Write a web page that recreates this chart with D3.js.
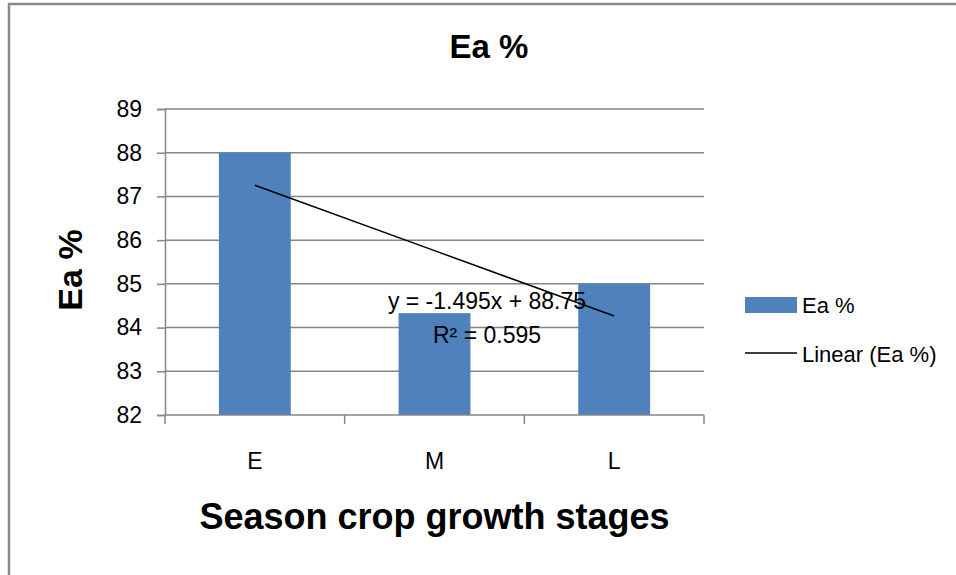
<!DOCTYPE html>
<html>
<head>
<meta charset="utf-8">
<script src="https://cdn.jsdelivr.net/npm/d3@7"></script>
<style>
  html, body { margin: 0; padding: 0; background: #fff; }
  svg { display: block; }
  text { font-family: "Liberation Sans", Arial, sans-serif; fill: #000; }
</style>
</head>
<body>
<svg id="chart" width="956" height="575"></svg>
<script>
// Growth stages and application efficiency values
const categories = ["E", "M", "L"];
const eaValues = [88, 84.33, 85];
const yTicks = [82, 83, 84, 85, 86, 87, 88, 89];
// Linear trend fitted over stage index 1..n
const trendSlope = -1.495;
const trendIntercept = 88.75;
const trendR2 = 0.595;

const svg = d3.select("#chart");
const W = 956, H = 575;
const plot = { left: 165, right: 704, top: 109, bottom: 415 };
const gridColor = "#868686";
const barColor = "#4F81BD";

svg.append("rect").attr("width", W).attr("height", H).attr("fill", "#fff");

// Chart area frame
svg.append("rect")
  .attr("x", 9).attr("y", 4)
  .attr("width", W + 20).attr("height", H + 20)
  .attr("fill", "none").attr("stroke", "#8a8a8a").attr("stroke-width", 2.5);

const x = d3.scaleBand().domain(categories)
  .range([plot.left, plot.right]).paddingInner(0.6).paddingOuter(0.3);
const xOuter = d3.scaleBand().domain(categories).range([plot.left, plot.right]);
const y = d3.scaleLinear().domain([82, 89]).range([plot.bottom, plot.top]);

// Horizontal gridlines
svg.append("g").selectAll("line").data(yTicks.slice(1)).join("line")
  .attr("x1", plot.left).attr("x2", plot.right)
  .attr("y1", d => y(d)).attr("y2", d => y(d))
  .attr("stroke", gridColor).attr("stroke-width", 1.5);

// Bars
svg.append("g").selectAll("rect").data(categories).join("rect")
  .attr("x", d => x(d))
  .attr("width", x.bandwidth())
  .attr("y", (d, i) => y(eaValues[i]))
  .attr("height", (d, i) => y(82) - y(eaValues[i]))
  .attr("fill", barColor);

// Y axis
const yAxis = svg.append("g")
  .attr("transform", `translate(${plot.left},0)`)
  .call(d3.axisLeft(y).tickValues(yTicks).tickSize(8).tickPadding(15).tickFormat(d3.format("d")));
yAxis.select(".domain").attr("stroke", gridColor).attr("stroke-width", 1.5);
yAxis.selectAll(".tick line").attr("stroke", gridColor).attr("stroke-width", 1.5);
yAxis.selectAll(".tick text").attr("font-size", 23).attr("font-family", "Liberation Sans, Arial, sans-serif").attr("fill", "#000");

// X axis with tick marks at category boundaries
const xAxisG = svg.append("g").attr("transform", `translate(0,${plot.bottom})`);
xAxisG.append("line")
  .attr("x1", plot.left).attr("x2", plot.right)
  .attr("stroke", gridColor).attr("stroke-width", 1.5);
const boundaries = categories.map(c => xOuter(c)).concat([xOuter(categories[categories.length - 1]) + xOuter.bandwidth()]);
xAxisG.selectAll("line.tk").data(boundaries).join("line").attr("class", "tk")
  .attr("x1", d => d).attr("x2", d => d).attr("y1", 0).attr("y2", 9)
  .attr("stroke", gridColor).attr("stroke-width", 1.5);
xAxisG.selectAll("text").data(categories).join("text")
  .attr("x", d => xOuter(d) + xOuter.bandwidth() / 2)
  .attr("y", 54)
  .attr("text-anchor", "middle").attr("font-size", 23)
  .text(d => d);

// Linear trendline from the fitted equation
const trendPts = categories.map((c, i) => [xOuter(c) + xOuter.bandwidth() / 2, y(trendSlope * (i + 1) + trendIntercept)]);
svg.append("path")
  .attr("d", d3.line()(trendPts))
  .attr("fill", "none").attr("stroke", "#000").attr("stroke-width", 1.5);

// Trendline equation
svg.append("text").attr("x", 487).attr("y", 309).attr("text-anchor", "middle").attr("font-size", 23)
  .text(`y = ${trendSlope}x + ${trendIntercept}`);
svg.append("text").attr("x", 487).attr("y", 343).attr("text-anchor", "middle").attr("font-size", 23)
  .text(`R² = ${trendR2}`);

// Titles
svg.append("text").attr("x", 489).attr("y", 58).attr("text-anchor", "middle")
  .attr("font-size", 33).attr("font-weight", "bold").text("Ea %");
svg.append("text").attr("transform", "translate(82,270) rotate(-90)")
  .attr("text-anchor", "middle").attr("font-size", 34).attr("font-weight", "bold").text("Ea %");
svg.append("text").attr("x", (plot.left + plot.right) / 2).attr("y", 529).attr("text-anchor", "middle")
  .attr("font-size", 36).attr("font-weight", "bold").text("Season crop growth stages");

// Legend
const legend = svg.append("g");
legend.append("rect").attr("x", 745).attr("y", 297).attr("width", 52).attr("height", 16).attr("fill", barColor);
legend.append("text").attr("x", 802).attr("y", 313).attr("font-size", 22).text("Ea %");
legend.append("line").attr("x1", 745).attr("x2", 797).attr("y1", 353).attr("y2", 353)
  .attr("stroke", "#000").attr("stroke-width", 1.5);
legend.append("text").attr("x", 802).attr("y", 362).attr("font-size", 22).text("Linear (Ea %)");
</script>
</body>
</html>
